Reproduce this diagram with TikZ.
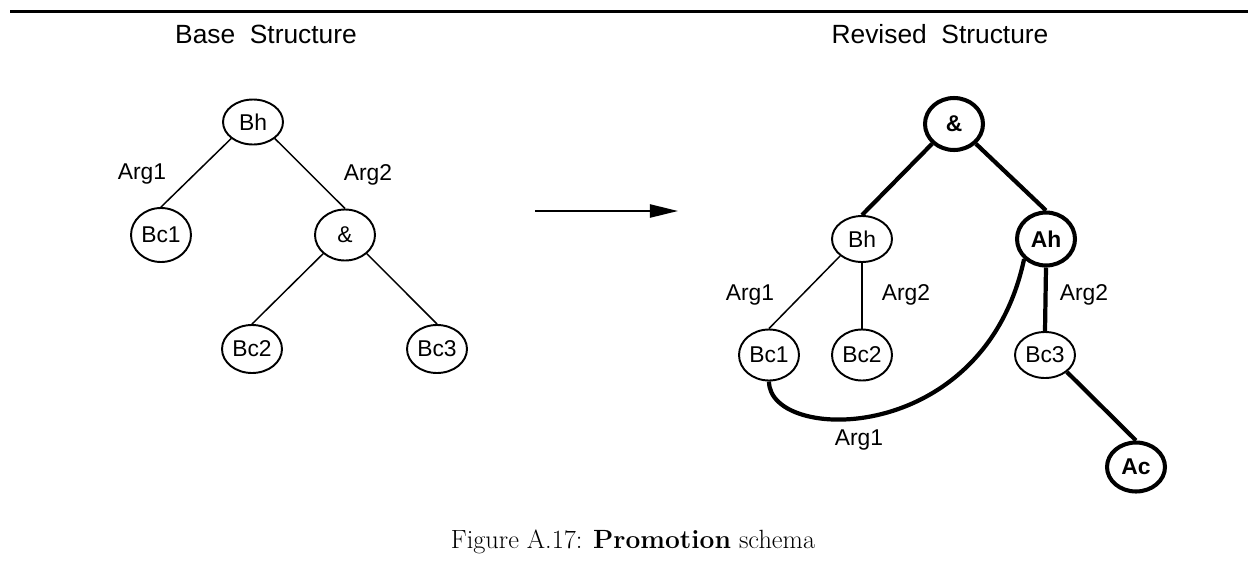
\documentclass[tikz,border=0pt]{standalone}
\usepackage{fontspec}
\newfontfamily\helv{Liberation Sans}
\usetikzlibrary{shapes.geometric,arrows.meta,positioning}

\tikzset{
  tnode/.style={ellipse, draw, line width=1.1pt, minimum width=1.2cm, minimum height=0.96cm,
    inner sep=0pt, font=\helv\fontsize{13}{15}\selectfont},
  hnode/.style={tnode, line width=2.3pt, minimum width=1.16cm, minimum height=1.04cm,
    font=\helv\bfseries\fontsize{13}{15}\selectfont},
  arglbl/.style={font=\helv\fontsize{13}{15}\selectfont},
  heading/.style={font=\helv\fontsize{15}{18}\selectfont},
  thinedge/.style={line width=0.85pt},
  thickedge/.style={line width=2.4pt},
}

\begin{document}
\begin{tikzpicture}[x=0.02cm, y=-0.02cm]
  \useasboundingbox (0,0) rectangle (1248,582);

  % rule at the top of the figure
  \draw[line width=1.7pt] (10,11.5) -- (1248,11.5);

  % headings
  \node[heading] (baseT) at (266,34) {Base~~Structure};
  \node[heading] (revT) at (940,34) {Revised~~Structure};

  % Base structure (left tree); last field = ellipse height in px
  \foreach \n/\x/\y/\t/\h in {bBh/253/122/Bh/45, bBc1/161/235/Bc1/54, bAmp/345/235/\&/51,
                              bBc2/252/349/Bc2/48, bBc3/437/349/Bc3/48} {
    \node[tnode, minimum height=\h*0.02cm] (\n) at (\x,\y) {\t};
  }
  \draw[thinedge] (bBh.south west) -- (bBc1.north);
  \draw[thinedge] (bBh.south east) -- (bAmp.north);
  \draw[thinedge] (bAmp.south west) -- (bBc2.north);
  \draw[thinedge] (bAmp.south east) -- (bBc3.north);
  \node[arglbl] (bArg1) at (142,174) {Arg1};
  \node[arglbl] (bArg2) at (368,175) {Arg2};

  % Transformation arrow
  \coordinate (arrS) at (535,211);
  \coordinate (arrE) at (678,211);
  \draw[line width=1.1pt, -{Triangle[length=16pt, width=7.5pt]}] (arrS) -- (arrE);

  % Revised structure (right tree) -- promoted parts drawn heavy
  \node[hnode] (rAmp) at (954,124) {\&};
  \node[tnode, minimum height=0.92cm] (rBh) at (862,239) {Bh};
  \node[hnode, minimum height=1.06cm] (rAh) at (1046,239) {Ah};
  \foreach \n/\x/\t/\h in {rBc1/769/Bc1/51, rBc2/862/Bc2/51, rBc3/1045/Bc3/46} {
    \node[tnode, minimum height=\h*0.02cm] (\n) at (\x,355) {\t};
  }
  \node[hnode, minimum height=0.98cm] (rAc) at (1136,467) {Ac};

  \draw[thickedge] (rAmp.south west) -- (rBh.north);
  \draw[thickedge] (rAmp.south east) -- (rAh.north);
  \draw[thinedge] (rBh.south west) -- (rBc1.north);
  \draw[thinedge] (rBh.south) -- (rBc2.north);
  \draw[thickedge] (rAh.south) -- (rBc3.north);
  \draw[thickedge] (rBc3.south east) -- (rAc.north);
  \draw[thickedge] (rBc1.south) .. controls +(0,62) and +(-40,188) .. (rAh.south west);

  \node[arglbl] (rArg1a) at (750,295) {Arg1};
  \node[arglbl] (rArg2a) at (906,295) {Arg2};
  \node[arglbl] (rArg2b) at (1084,295) {Arg2};
  \node[arglbl] (rArg1b) at (859,440) {Arg1};

  % caption
  \node[font=\fontsize{15}{18}\selectfont] (caption) at (633,542)
    {Figure A.17: \textbf{Promotion} schema};
\end{tikzpicture}
\end{document}
